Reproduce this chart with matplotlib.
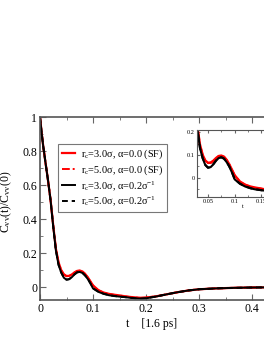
import matplotlib
matplotlib.use("Agg")
import matplotlib.pyplot as plt
from matplotlib.ticker import MultipleLocator, FuncFormatter

plt.rcParams['font.family'] = ['Liberation Serif', 'DejaVu Serif']
plt.rcParams['mathtext.fontset'] = 'custom'
plt.rcParams['mathtext.rm'] = 'Liberation Serif'
plt.rcParams['mathtext.it'] = 'Liberation Serif'

# time axis (units of 1.6 ps)
t = [0.000, 0.003, 0.006, 0.010, 0.015, 0.020, 0.025, 0.030, 0.035, 0.040,
     0.045, 0.050, 0.055, 0.060, 0.065, 0.070, 0.075, 0.080, 0.085, 0.090,
     0.095, 0.100, 0.110, 0.120, 0.130, 0.140, 0.150, 0.160, 0.170, 0.180,
     0.190, 0.200, 0.220, 0.240, 0.260, 0.280, 0.300, 0.330, 0.360, 0.390,
     0.420, 0.450, 0.500]

# SF, rc = 3.0 sigma
sf_rc3 = [1.00, 0.91, 0.83, 0.74, 0.63, 0.51, 0.36, 0.225, 0.145, 0.100,
          0.075, 0.065, 0.066, 0.074, 0.086, 0.095, 0.097, 0.092, 0.078, 0.058,
          0.034, 0.010, -0.018, -0.032, -0.040, -0.045, -0.049, -0.054, -0.058, -0.061,
          -0.063, -0.062, -0.054, -0.042, -0.030, -0.020, -0.013, -0.008, -0.005, -0.003,
          -0.002, -0.001, 0.000]
# SF, rc = 5.0 sigma
sf_rc5 = [1.00, 0.91, 0.83, 0.74, 0.63, 0.51, 0.36, 0.224, 0.143, 0.098,
          0.073, 0.064, 0.065, 0.073, 0.085, 0.094, 0.096, 0.091, 0.077, 0.057,
          0.033, 0.009, -0.019, -0.033, -0.041, -0.046, -0.050, -0.055, -0.059, -0.062,
          -0.064, -0.062, -0.054, -0.042, -0.030, -0.020, -0.013, -0.008, -0.005, -0.003,
          -0.002, -0.001, 0.000]
# damped, alpha = 0.2 / sigma, rc = 3.0 sigma
dsf_rc3 = [1.00, 0.91, 0.83, 0.74, 0.63, 0.51, 0.355, 0.215, 0.130, 0.085,
           0.055, 0.043, 0.046, 0.058, 0.074, 0.086, 0.089, 0.083, 0.068, 0.048,
           0.022, -0.008, -0.028, -0.040, -0.048, -0.053, -0.056, -0.059, -0.063, -0.066,
           -0.068, -0.066, -0.055, -0.042, -0.030, -0.020, -0.013, -0.008, -0.005, -0.003,
           -0.002, -0.001, 0.000]
# damped, alpha = 0.2 / sigma, rc = 5.0 sigma
dsf_rc5 = [1.00, 0.91, 0.83, 0.74, 0.63, 0.51, 0.355, 0.216, 0.131, 0.086,
           0.056, 0.044, 0.047, 0.059, 0.075, 0.087, 0.090, 0.084, 0.069, 0.049,
           0.023, -0.007, -0.027, -0.039, -0.047, -0.052, -0.056, -0.059, -0.063, -0.066,
           -0.068, -0.066, -0.055, -0.042, -0.030, -0.020, -0.013, -0.008, -0.005, -0.003,
           -0.002, -0.001, 0.000]

labels = [r'r$_c$=3.0σ, α=0.0 (SF)',
          r'r$_c$=5.0σ, α=0.0 (SF)',
          r'r$_c$=3.0σ, α=0.2σ$^{-1}$',
          r'r$_c$=5.0σ, α=0.2σ$^{-1}$']

W, H = 264, 341
fig = plt.figure(figsize=(W / 100, H / 100), dpi=100)

def frac(x0, y0, x1, y1):
    return [x0 / W, 1 - y1 / H, (x1 - x0) / W, (y1 - y0) / H]

ax = fig.add_axes(frac(40, 117, 264, 300))

def draw(a, lw):
    a.plot(t, sf_rc3, color='red', lw=lw * 1.15, ls='-', label=labels[0])
    a.plot(t, sf_rc5, color='red', lw=lw, ls=(0, (4, 1.5, 1, 1.5)), label=labels[1])
    a.plot(t, dsf_rc3, color='black', lw=lw, ls='-', label=labels[2])
    a.plot(t, dsf_rc5, color='black', lw=lw, ls=(0, (3, 2)), label=labels[3])

draw(ax, 1.4)
ax.set_xlim(0, (264 - 40) / 530)
ax.set_ylim(-0.076, 1.0)
ax.spines['right'].set_visible(False)
ax.xaxis.set_major_locator(MultipleLocator(0.1))
ax.xaxis.set_minor_locator(MultipleLocator(0.05))
ax.yaxis.set_major_locator(MultipleLocator(0.2))
ax.yaxis.set_minor_locator(MultipleLocator(0.1))
fmt = FuncFormatter(lambda v, p: ('%g' % round(v, 3)))
ax.xaxis.set_major_formatter(fmt)
ax.yaxis.set_major_formatter(fmt)
ax.tick_params(which='both', direction='in', top=True, right=False, labelsize=8.5,
               color='#666666', pad=2)
ax.tick_params(which='major', length=4)
ax.tick_params(which='minor', length=2)
for s in ax.spines.values():
    s.set_color('#555555')
    s.set_linewidth(1.2)
ax.set_xlabel('t    [1.6 ps]', fontsize=8.5, labelpad=2)
ax.set_ylabel(r'C$_{vv}$(t)/C$_{vv}$(0)', fontsize=8.5)
ax.yaxis.set_label_coords((14 - 40) / 224, (300 - 202) / 183)

leg = ax.legend(loc='upper left', bbox_to_anchor=((58 - 40) / 224, (300 - 144) / 183),
                fontsize=7.4, handlelength=1.3, handletextpad=0.6, borderpad=0.35,
                labelspacing=0.2, frameon=True, fancybox=False, borderaxespad=0)
leg.get_frame().set_edgecolor('#555555')
leg.get_frame().set_linewidth(0.8)

ins = fig.add_axes(frac(197, 130, 288, 197))
draw(ins, 1.5)
ins.set_xlim(0.0294, 0.2)
ins.set_ylim(-0.086, 0.21)
ins.xaxis.set_major_locator(MultipleLocator(0.05))
ins.xaxis.set_minor_locator(MultipleLocator(0.025))
ins.yaxis.set_major_locator(MultipleLocator(0.1))
ins.yaxis.set_minor_locator(MultipleLocator(0.05))
ins.xaxis.set_major_formatter(fmt)
ins.yaxis.set_major_formatter(fmt)
ins.tick_params(which='both', direction='in', top=True, right=True, labelsize=4.5,
                color='#666666', pad=1.5)
ins.tick_params(which='major', length=2.5)
ins.tick_params(which='minor', length=1.2)
for s in ins.spines.values():
    s.set_color('#555555')
    s.set_linewidth(0.8)
ins.set_xlabel('t', fontsize=4.5, labelpad=0)

fig.savefig('out.png', dpi=100)
